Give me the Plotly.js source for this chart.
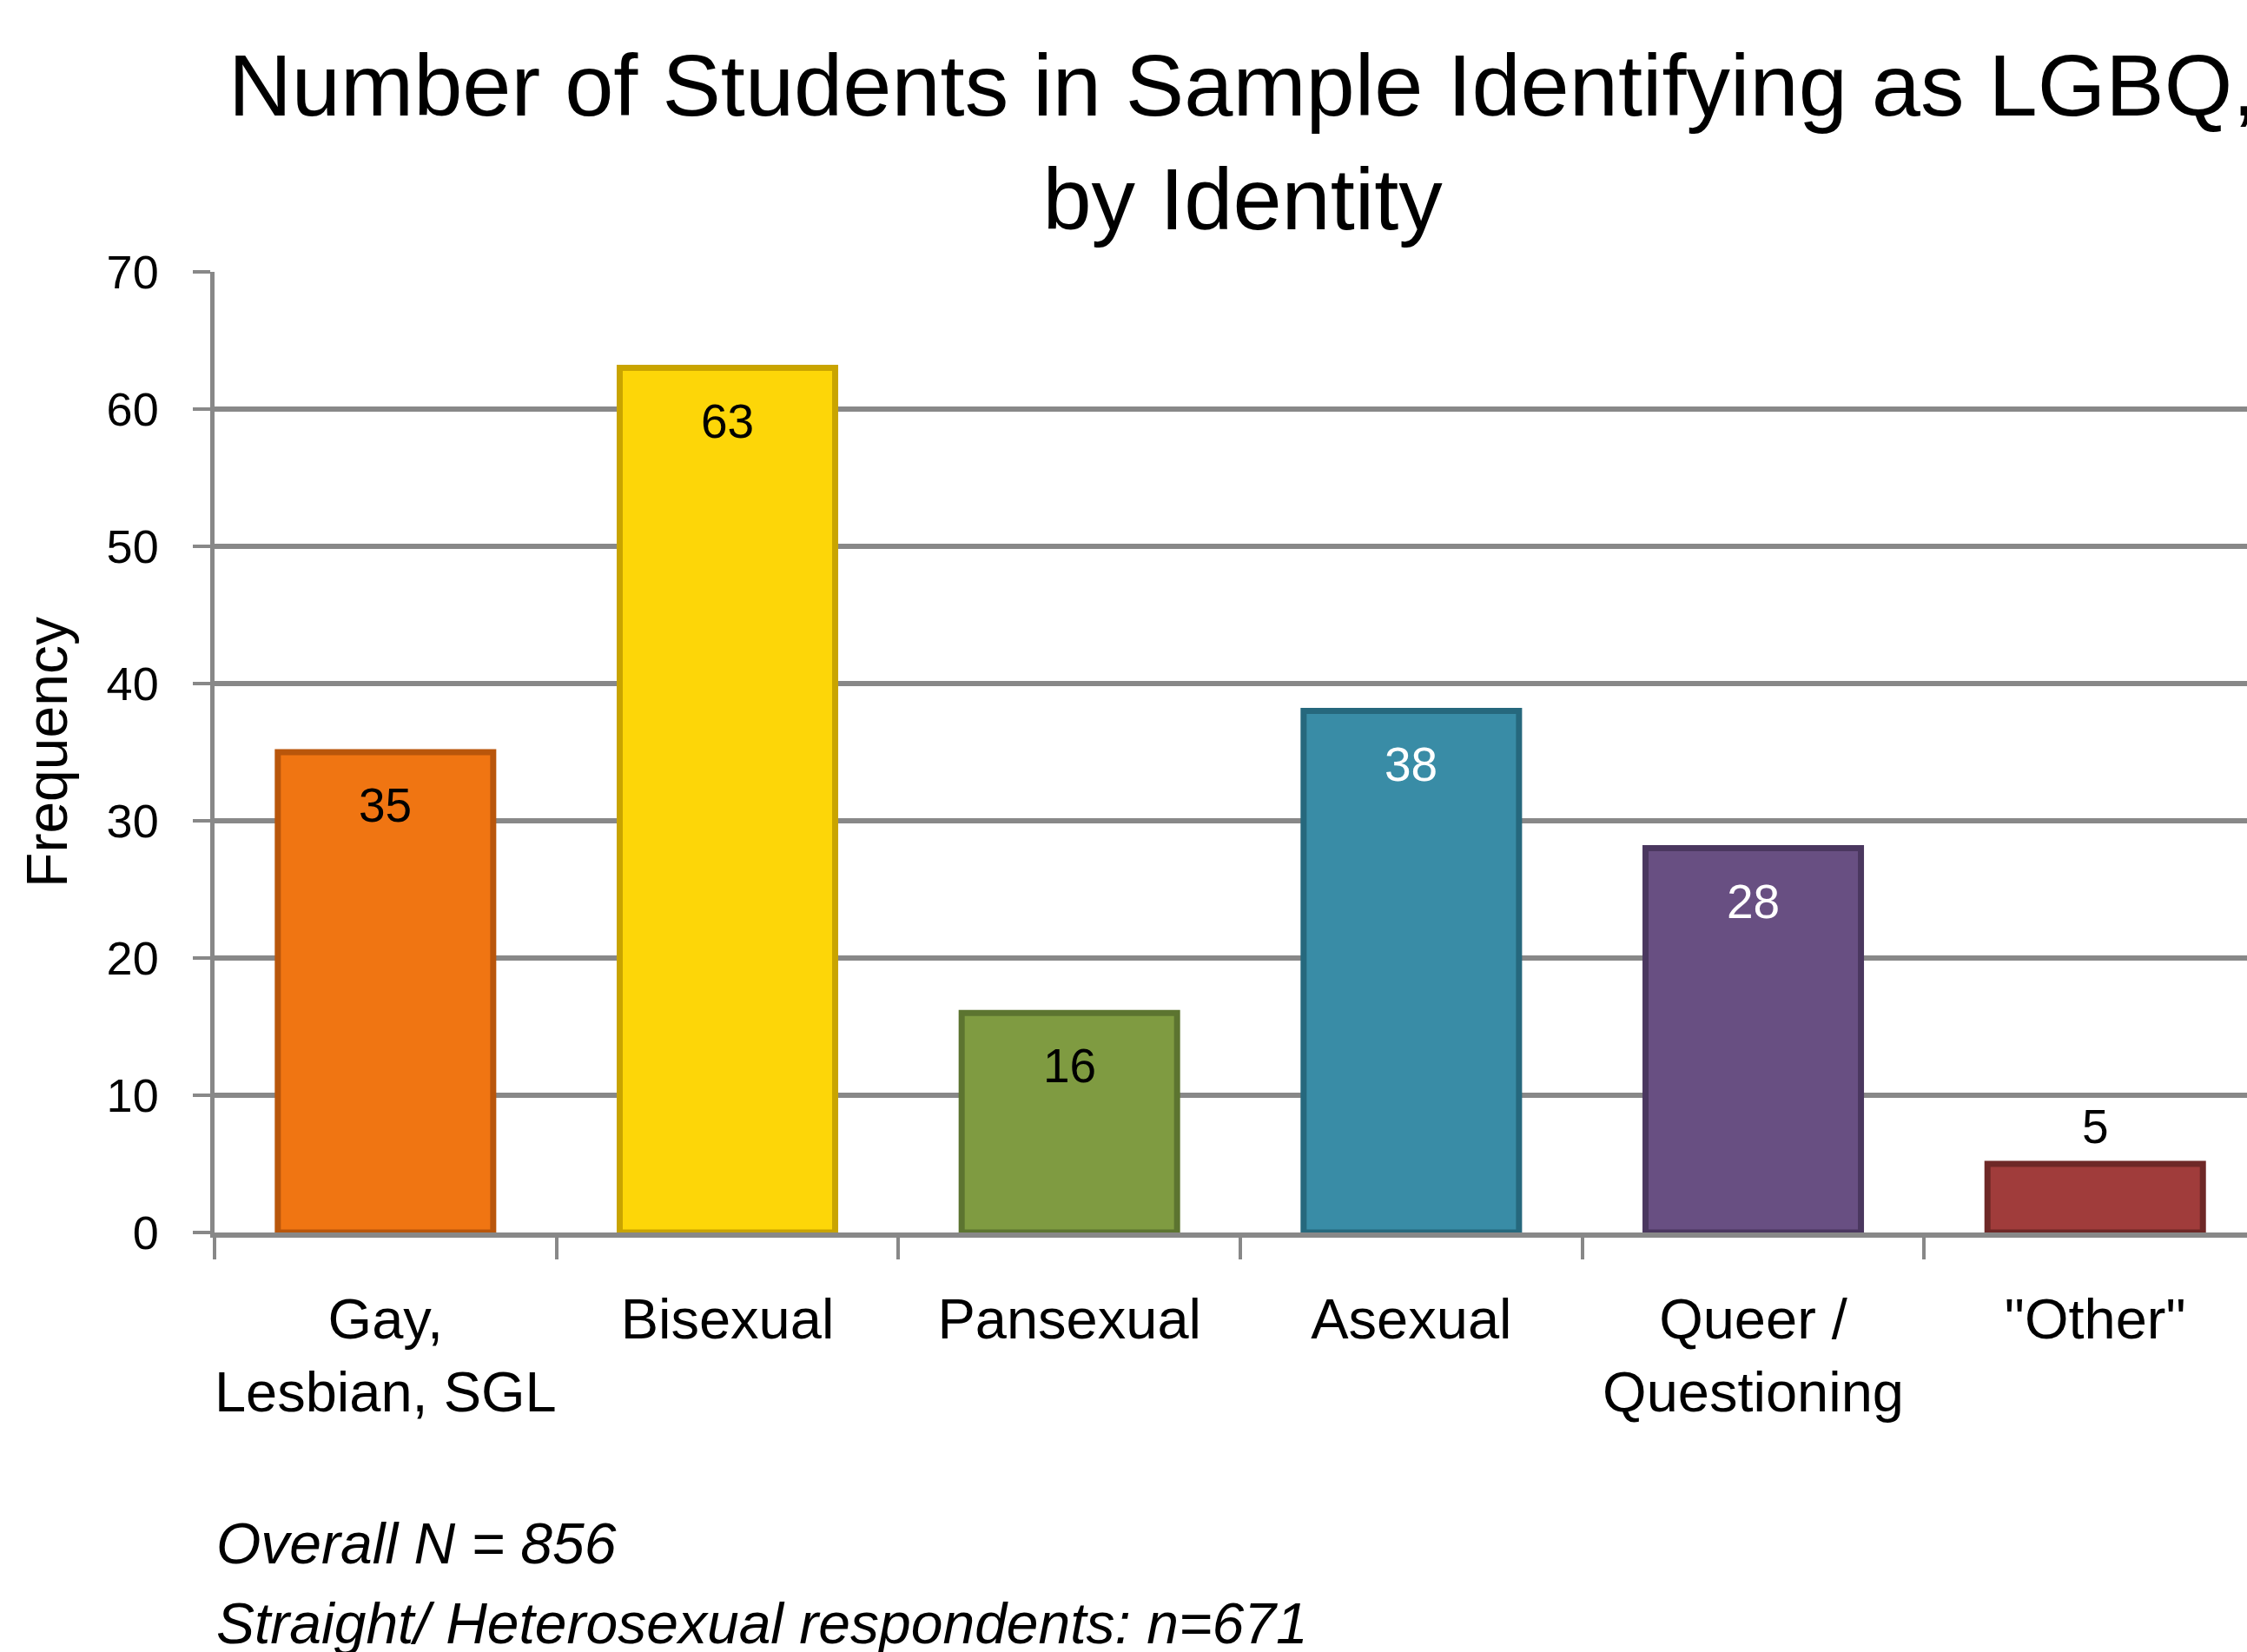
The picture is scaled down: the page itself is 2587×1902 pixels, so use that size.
<!DOCTYPE html>
<html>
<head>
<meta charset="utf-8">
<script src="https://cdn.plot.ly/plotly-3.0.1.min.js"></script>
<style>
  html, body { margin: 0; padding: 0; background: #ffffff; overflow: hidden; }
  #chart { width: 2587px; height: 1902px; }
</style>
</head>
<body>
<div id="chart"></div>
<script>
// ---- data ----
const categories = ['Gay,<br>Lesbian, SGL', 'Bisexual', 'Pansexual', 'Asexual', 'Queer /<br>Questioning', '"Other"'];
const frequencies = [35, 63, 16, 38, 28, 5];
const barColors = ['#F07512', '#FDD608', '#7F9B41', '#398CA6', '#684F82', '#A03C3B'];
const barEdgeColors = ['#B9560B', '#C9A400', '#5C7430', '#26687D', '#4A375F', '#6E2827'];
const labelColors = ['#000000', '#000000', '#000000', '#ffffff', '#ffffff', '#000000'];
const labelInside = [true, true, true, true, true, false];
const yTicks = [0, 10, 20, 30, 40, 50, 60, 70];
const titleText = 'Number of Students in Sample Identifying as LGBQ,<br>by Identity';
const yTitle = 'Frequency';
const notes = ['Overall N = 856', 'Straight/ Heterosexual respondents: n=671'];

const FONT = '"Liberation Sans", Arial, sans-serif';

const trace = {
  type: 'bar',
  x: categories,
  y: frequencies,
  width: 0.63,
  marker: {
    color: barColors,
    line: { color: barEdgeColors, width: 7 }
  },
  hoverinfo: 'x+y'
};

const annotations = frequencies.map((v, i) => ({
  x: categories[i],
  y: v,
  xref: 'x',
  yref: 'y',
  text: String(v),
  showarrow: false,
  yshift: labelInside[i] ? -61 : 43,
  font: { family: FONT, size: 55, color: labelColors[i] }
}));

notes.forEach((t, i) => {
  annotations.push({
    xref: 'paper', yref: 'paper',
    x: 0, y: [-0.3237, -0.407][i],
    xanchor: 'left', yanchor: 'middle',
    text: '<i>' + t + '</i>',
    showarrow: false,
    font: { family: FONT, size: 66, color: '#000000' }
  });
});

const layout = {
  width: 2587,
  height: 1902,
  paper_bgcolor: '#ffffff',
  plot_bgcolor: '#ffffff',
  margin: { l: 247, r: 0, t: 313, b: 483 },
  showlegend: false,
  font: { family: FONT, color: '#000000' },
  title: {
    text: titleText,
    x: 0.553, xanchor: 'center',
    y: 0.930, yanchor: 'middle',
    yref: 'container',
    font: { family: FONT, size: 101, color: '#000000' }
  },
  xaxis: {
    type: 'category',
    range: [-0.5, 5.444],
    showline: true, linecolor: '#888888', linewidth: 5.5,
    ticks: 'outside', tickson: 'boundaries', ticklen: 25, tickwidth: 4, tickcolor: '#888888',
    showgrid: false, zeroline: false,
    tickangle: 0,
    ticklabelstandoff: 38,
    tickfont: { family: FONT, size: 65, color: '#000000' },
    fixedrange: true
  },
  yaxis: {
    range: [0, 70],
    tickvals: yTicks,
    showline: true, linecolor: '#888888', linewidth: 5.5,
    ticks: 'outside', ticklen: 20, tickwidth: 4, tickcolor: '#888888',
    showgrid: true, gridcolor: '#888888', gridwidth: 5.5,
    zeroline: false,
    ticklabelstandoff: 28,
    tickfont: { family: FONT, size: 54, color: '#000000' },
    title: { text: yTitle, standoff: 25, font: { family: FONT, size: 66, color: '#000000' } },
    fixedrange: true
  },
  annotations: annotations
};

Plotly.newPlot('chart', [trace], layout, { displayModeBar: false, staticPlot: true });
</script>
</body>
</html>
